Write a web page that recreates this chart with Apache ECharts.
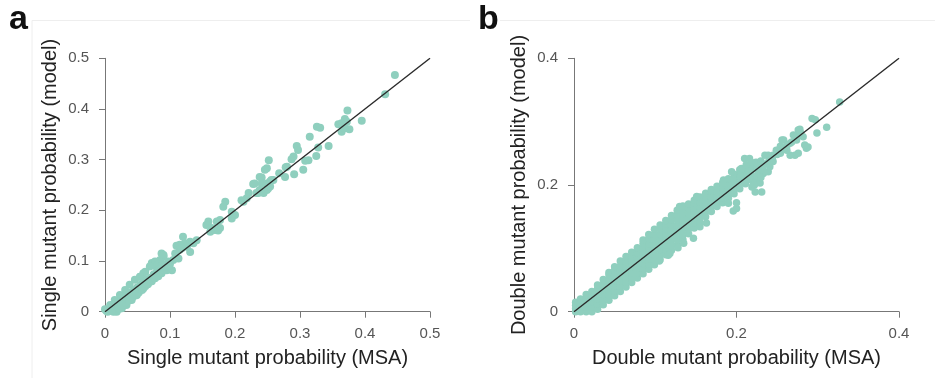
<!DOCTYPE html>
<html>
<head>
<meta charset="utf-8">
<script src="https://cdn.jsdelivr.net/npm/echarts@6/dist/echarts.min.js"></script>
<style>
html,body{margin:0;padding:0;background:#fff;}
#chart{width:935px;height:378px;}
</style>
</head>
<body>
<div id="chart"></div>
<script>
// ---------- Panel a: single mutant probability (MSA x, model y) ----------
const singleTicks = [0, 0.1, 0.2, 0.3, 0.4, 0.5];
const singleDiagonal = [[0, 0], [0.5, 0.5]];
const singlePoints = [
  [0.446,0.467],[0.431,0.429],[0.373,0.397],[0.395,0.377],[0.359,0.370],[0.364,0.372],[0.369,0.380],[0.372,0.375],
  [0.364,0.355],[0.376,0.360],[0.369,0.362],[0.326,0.365],[0.331,0.363],[0.315,0.345],[0.344,0.327],[0.328,0.324],
  [0.325,0.307],[0.295,0.327],[0.297,0.319],[0.313,0.299],[0.308,0.298],[0.287,0.301],[0.305,0.280],[0.291,0.271],
  [0.277,0.266],[0.268,0.273],[0.280,0.286],[0.252,0.299],[0.249,0.283],[0.246,0.280],[0.241,0.265],[0.256,0.260],
  [0.228,0.252],[0.278,0.285],[0.290,0.306],[0.238,0.266],[0.230,0.253],[0.241,0.253],[0.249,0.253],[0.254,0.257],
  [0.259,0.260],[0.238,0.240],[0.244,0.234],[0.236,0.234],[0.249,0.240],[0.233,0.234],[0.251,0.243],[0.254,0.247],
  [0.221,0.234],[0.210,0.220],[0.218,0.224],[0.213,0.217],[0.185,0.217],[0.182,0.207],[0.195,0.197],[0.200,0.191],
  [0.195,0.184],[0.177,0.181],[0.172,0.178],[0.159,0.178],[0.156,0.171],[0.164,0.165],[0.162,0.158],[0.169,0.161],
  [0.177,0.165],[0.174,0.160],[0.120,0.148],[0.131,0.138],[0.123,0.135],[0.110,0.130],[0.115,0.132],[0.126,0.128],
  [0.115,0.122],[0.131,0.118],[0.136,0.135],[0.141,0.141],[0.118,0.125],[0.108,0.115],
  [0.087,0.115],[0.090,0.109],[0.085,0.102],[0.072,0.096],[0.077,0.099],[0.097,0.099],[0.105,0.102],[0.113,0.105],
  [0.095,0.089],[0.103,0.082],[0.090,0.112],[0.082,0.094],[0.079,0.089],[0.069,0.089],[0.087,0.076],[0.095,0.082],
  [0.100,0.095],[0.092,0.086],[0.084,0.084],[0.099,0.092],
  [0.062,0.079],[0.054,0.069],[0.046,0.063],[0.038,0.053],[0.031,0.043],[0.023,0.033],[0.015,0.023],[0.008,0.013],
  [0.000,0.005],[0.069,0.059],[0.059,0.046],[0.049,0.033],[0.041,0.023],[0.033,0.013],[0.026,0.007],[0.018,0.000],
  [0.013,0.000],[0.059,0.076],[0.054,0.069],
  [0.002,0.002],[0.006,0.004],[0.008,0.008],[0.012,0.006],[0.012,0.012],[0.016,0.010],[0.016,0.016],[0.020,0.012],
  [0.020,0.019],[0.022,0.006],[0.024,0.016],[0.025,0.024],[0.028,0.014],[0.028,0.022],[0.030,0.030],[0.032,0.018],
  [0.033,0.026],[0.035,0.034],[0.037,0.022],[0.038,0.030],[0.040,0.038],[0.042,0.028],[0.043,0.036],[0.045,0.043],
  [0.047,0.032],[0.048,0.040],[0.050,0.048],[0.052,0.038],[0.053,0.046],[0.055,0.053],[0.057,0.043],[0.058,0.051],
  [0.060,0.058],[0.062,0.050],[0.063,0.057],[0.065,0.063],[0.066,0.054],[0.068,0.062],[0.070,0.067],[0.072,0.060],
  [0.073,0.068],[0.075,0.074],[0.077,0.066],[0.078,0.072],[0.080,0.080],[0.082,0.070],[0.083,0.078],[0.085,0.085],
  [0.088,0.092],[0.090,0.083],[0.093,0.089],[0.098,0.090],[0.065,0.055],[0.010,0.002],[0.004,0.000]
];

// ---------- Panel b: double mutant probability (MSA x, model y) ----------
const doubleTicks = [0, 0.2, 0.4];
const doubleDiagonal = [[0, 0], [0.4, 0.4]];
const doublePoints = [
  [0.002,0.000],[0.002,0.005],[0.002,0.010],[0.002,0.015],
  [0.008,0.000],[0.008,0.007],[0.008,0.014],[0.008,0.020],
  [0.015,0.000],[0.015,0.007],[0.015,0.014],[0.015,0.021],[0.015,0.027],
  [0.022,0.000],[0.022,0.008],[0.022,0.016],[0.022,0.024],[0.022,0.032],
  [0.029,0.004],[0.029,0.012],[0.029,0.020],[0.029,0.028],[0.029,0.036],[0.029,0.042],
  [0.036,0.011],[0.036,0.019],[0.036,0.027],[0.036,0.035],[0.036,0.043],[0.036,0.051],
  [0.043,0.018],[0.043,0.026],[0.043,0.034],[0.043,0.042],[0.043,0.050],[0.043,0.058],[0.043,0.062],
  [0.050,0.025],[0.050,0.033],[0.050,0.041],[0.050,0.049],[0.050,0.057],[0.050,0.065],[0.050,0.071],
  [0.057,0.032],[0.057,0.040],[0.057,0.048],[0.057,0.056],[0.057,0.064],[0.057,0.072],[0.057,0.080],
  [0.064,0.039],[0.064,0.047],[0.064,0.055],[0.064,0.063],[0.064,0.071],[0.064,0.079],[0.064,0.087],
  [0.071,0.046],[0.071,0.054],[0.071,0.062],[0.071,0.070],[0.071,0.078],[0.071,0.086],[0.071,0.094],
  [0.078,0.053],[0.078,0.061],[0.078,0.069],[0.078,0.077],[0.078,0.085],[0.078,0.093],[0.078,0.101],
  [0.085,0.060],[0.085,0.068],[0.085,0.076],[0.085,0.084],[0.085,0.092],[0.085,0.100],[0.085,0.108],[0.085,0.113],
  [0.092,0.067],[0.092,0.075],[0.092,0.083],[0.092,0.091],[0.092,0.099],[0.092,0.107],[0.092,0.115],[0.092,0.122],
  [0.099,0.074],[0.099,0.082],[0.099,0.090],[0.099,0.098],[0.099,0.106],[0.099,0.114],[0.099,0.122],[0.099,0.130],
  [0.106,0.082],[0.106,0.090],[0.106,0.098],[0.106,0.106],[0.106,0.114],[0.106,0.122],[0.106,0.130],[0.106,0.137],
  [0.113,0.090],[0.113,0.098],[0.113,0.106],[0.113,0.114],[0.113,0.122],[0.113,0.130],[0.113,0.138],[0.113,0.144],
  [0.120,0.097],[0.120,0.105],[0.120,0.113],[0.120,0.121],[0.120,0.129],[0.120,0.137],[0.120,0.145],[0.120,0.152],
  [0.127,0.105],[0.127,0.113],[0.127,0.121],[0.127,0.129],[0.127,0.137],[0.127,0.145],[0.127,0.153],[0.127,0.160],
  [0.134,0.114],[0.134,0.122],[0.134,0.130],[0.134,0.138],[0.134,0.146],[0.134,0.154],[0.134,0.162],[0.134,0.167],
  [0.141,0.123],[0.141,0.131],[0.141,0.139],[0.141,0.147],[0.141,0.155],[0.141,0.163],[0.141,0.170],
  [0.148,0.132],[0.148,0.140],[0.148,0.148],[0.148,0.156],[0.148,0.164],[0.148,0.172],[0.148,0.176],
  [0.155,0.141],[0.155,0.149],[0.155,0.157],[0.155,0.165],[0.155,0.173],[0.155,0.181],
  [0.162,0.150],[0.162,0.158],[0.162,0.166],[0.162,0.174],[0.162,0.182],[0.162,0.187],
  [0.169,0.158],[0.169,0.166],[0.169,0.174],[0.169,0.182],[0.169,0.190],[0.169,0.193],
  [0.176,0.166],[0.176,0.174],[0.176,0.182],[0.176,0.190],[0.176,0.198],
  [0.183,0.172],[0.183,0.180],[0.183,0.188],[0.183,0.196],[0.183,0.204],
  [0.190,0.179],[0.190,0.187],[0.190,0.195],[0.190,0.203],[0.190,0.210],
  [0.197,0.186],[0.197,0.194],[0.197,0.202],[0.197,0.210],[0.197,0.217],
  [0.204,0.194],[0.204,0.202],[0.204,0.210],[0.204,0.218],[0.204,0.224],
  [0.211,0.202],[0.211,0.210],[0.211,0.218],[0.211,0.225],
  [0.218,0.208],[0.218,0.216],[0.218,0.224],[0.218,0.230],
  [0.105,0.080],[0.118,0.092],[0.128,0.101],[0.135,0.108],[0.147,0.116],[0.155,0.134],[0.163,0.140],
  [0.190,0.171],[0.196,0.159],[0.200,0.163],[0.200,0.172],[0.196,0.187],[0.116,0.089],
  [0.327,0.331],[0.293,0.305],[0.297,0.303],[0.311,0.291],[0.299,0.282],[0.286,0.258],[0.288,0.260],[0.276,0.287],
  [0.278,0.288],[0.270,0.279],[0.272,0.247],[0.266,0.247],[0.276,0.250],[0.258,0.271],[0.262,0.255],[0.249,0.255],
  [0.254,0.250],[0.245,0.247],[0.235,0.247],[0.229,0.229],[0.233,0.218],[0.239,0.221],[0.227,0.208],[0.221,0.208],
  [0.213,0.216],[0.229,0.203],[0.223,0.189],[0.231,0.189],[0.219,0.197],[0.210,0.205],[0.204,0.213],[0.245,0.237],
  [0.241,0.229],[0.254,0.261],[0.266,0.266],[0.282,0.276],[0.274,0.271],[0.210,0.242],[0.216,0.242],[0.151,0.182],
  [0.130,0.166],[0.184,0.208],[0.194,0.221],[0.206,0.226],[0.256,0.271],[0.274,0.277],[0.279,0.282],[0.284,0.263],
  [0.225,0.213],[0.239,0.247],[0.221,0.203],
  [0.215,0.222],[0.220,0.230],[0.225,0.226],[0.228,0.220],[0.232,0.225],[0.236,0.233],[0.240,0.238],[0.212,0.232],
  [0.218,0.236],[0.225,0.215],[0.230,0.212],[0.215,0.210],[0.222,0.200],[0.205,0.214],[0.224,0.236],[0.230,0.238],
  [0.244,0.242],[0.250,0.248],[0.258,0.258],[0.262,0.262],[0.268,0.268],[0.272,0.275]
];

const FONT = '"Liberation Sans", Arial, Helvetica, sans-serif';
const POINT_COLOR = '#8fcfbe';
const AXIS_COLOR = '#777';

function makeXAxis(idx, max, interval, name) {
  return {
    type: 'value', gridIndex: idx, min: 0, max: max, interval: interval,
    name: name, nameLocation: 'middle', nameGap: 37,
    nameTextStyle: { fontSize: 20, color: '#222', fontFamily: FONT },
    axisLine: { show: true, lineStyle: { color: AXIS_COLOR, width: 1 } },
    axisTick: { show: true, length: 6, lineStyle: { color: AXIS_COLOR, width: 1 } },
    axisLabel: { color: '#555', fontSize: 15, margin: 15, fontFamily: FONT },
    splitLine: { show: false }
  };
}
function makeYAxis(idx, max, interval, name) {
  return {
    type: 'value', gridIndex: idx, min: 0, max: max, interval: interval,
    name: name, nameLocation: 'middle', nameGap: 45,
    nameTextStyle: { fontSize: 20, color: '#222', fontFamily: FONT },
    axisLine: { show: true, lineStyle: { color: AXIS_COLOR, width: 1 } },
    axisTick: { show: true, length: 6, lineStyle: { color: AXIS_COLOR, width: 1 } },
    axisLabel: { color: '#555', fontSize: 15, margin: 16, fontFamily: FONT },
    splitLine: { show: false }
  };
}

const chart = echarts.init(document.getElementById('chart'), null, { renderer: 'canvas' });
chart.setOption({
  backgroundColor: '#fff',
  animation: false,
  grid: [
    { left: 105, top: 58.3, width: 325, height: 253.4 },
    { left: 574, top: 58.3, width: 325, height: 253.4 }
  ],
  xAxis: [
    makeXAxis(0, singleTicks[singleTicks.length - 1], singleTicks[1] - singleTicks[0], 'Single mutant probability (MSA)'),
    makeXAxis(1, doubleTicks[doubleTicks.length - 1], doubleTicks[1] - doubleTicks[0], 'Double mutant probability (MSA)')
  ],
  yAxis: [
    makeYAxis(0, singleTicks[singleTicks.length - 1], singleTicks[1] - singleTicks[0], 'Single mutant probability (model)'),
    makeYAxis(1, doubleTicks[doubleTicks.length - 1], doubleTicks[1] - doubleTicks[0], 'Double mutant probability (model)')
  ],
  series: [
    { type: 'scatter', xAxisIndex: 0, yAxisIndex: 0, data: singlePoints, symbolSize: 8,
      itemStyle: { color: POINT_COLOR, opacity: 1 }, silent: true, z: 2 },
    { type: 'line', xAxisIndex: 0, yAxisIndex: 0, data: singleDiagonal, showSymbol: false,
      lineStyle: { color: '#2a2a2a', width: 1.4 }, silent: true, z: 3 },
    { type: 'scatter', xAxisIndex: 1, yAxisIndex: 1, data: doublePoints, symbolSize: 7.5,
      itemStyle: { color: POINT_COLOR, opacity: 1 }, silent: true, z: 2 },
    { type: 'line', xAxisIndex: 1, yAxisIndex: 1, data: doubleDiagonal, showSymbol: false,
      lineStyle: { color: '#2a2a2a', width: 1.4 }, silent: true, z: 3 }
  ],
  graphic: [
    { type: 'line', shape: { x1: 32, y1: 20.5, x2: 470, y2: 20.5 }, style: { stroke: '#eeeeee', lineWidth: 1 }, silent: true },
    { type: 'line', shape: { x1: 500, y1: 20.5, x2: 935, y2: 20.5 }, style: { stroke: '#eeeeee', lineWidth: 1 }, silent: true },
    { type: 'line', shape: { x1: 32, y1: 20.5, x2: 32, y2: 378 }, style: { stroke: '#eeeeee', lineWidth: 1 }, silent: true },
    { type: 'text', x: 9, y: 20, style: { text: 'a', fontSize: 34, fontWeight: 'bold', fontFamily: FONT, fill: '#111', verticalAlign: 'middle' } },
    { type: 'text', x: 478, y: 20, style: { text: 'b', fontSize: 34, fontWeight: 'bold', fontFamily: FONT, fill: '#111', verticalAlign: 'middle' } }
  ]
});
</script>
</body>
</html>
